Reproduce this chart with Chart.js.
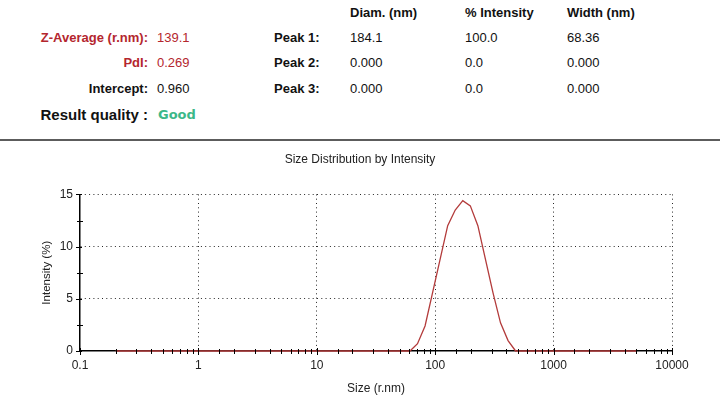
<!DOCTYPE html>
<html>
<head>
<meta charset="utf-8">
<script src="https://cdn.jsdelivr.net/npm/chart.js@4/dist/chart.umd.min.js"></script>
<style>
    html, body { margin: 0; padding: 0; background: #fff; }
    #page { position: relative; width: 720px; height: 402px; overflow: hidden; font-family: "Liberation Sans", Arial, sans-serif; color: #111; }
    .t { position: absolute; font-size: 13px; line-height: 16px; white-space: nowrap; }
    .b { font-weight: bold; }
    .lab { right: 572px; text-align: right; }
    .red { color: #b4262e; }
    .good { color: #3cb889; font-family: "DejaVu Sans", sans-serif; font-weight: bold; font-size: 13px; }
    #rule { position: absolute; left: 0; top: 139px; width: 720px; height: 2px; background: #5c5c5c; }
    #wrap { position: absolute; left: 0; top: 141px; width: 720px; height: 261px; }
</style>
</head>
<body>
<div id="page">
    <div class="t b" style="left:350px;top:5px">Diam. (nm)</div>
    <div class="t b" style="left:465px;top:5px">% Intensity</div>
    <div class="t b" style="left:567px;top:5px">Width (nm)</div>

    <div class="t b lab red" style="top:30px">Z-Average (r.nm):</div>
    <div class="t red" style="left:157px;top:30px">139.1</div>
    <div class="t b lab red" style="top:55px">PdI:</div>
    <div class="t red" style="left:157px;top:55px">0.269</div>
    <div class="t b lab" style="top:81px">Intercept:</div>
    <div class="t" style="left:157px;top:81px">0.960</div>
    <div class="t b lab" style="top:106px;font-size:15px;line-height:18px">Result quality :</div>
    <div class="t good" style="left:158px;top:107px">Good</div>

    <div class="t b" style="left:274px;top:30px">Peak 1:</div>
    <div class="t" style="left:350px;top:30px">184.1</div>
    <div class="t" style="left:465px;top:30px">100.0</div>
    <div class="t" style="left:567px;top:30px">68.36</div>
    <div class="t b" style="left:274px;top:55px">Peak 2:</div>
    <div class="t" style="left:350px;top:55px">0.000</div>
    <div class="t" style="left:465px;top:55px">0.0</div>
    <div class="t" style="left:567px;top:55px">0.000</div>
    <div class="t b" style="left:274px;top:81px">Peak 3:</div>
    <div class="t" style="left:350px;top:81px">0.000</div>
    <div class="t" style="left:465px;top:81px">0.0</div>
    <div class="t" style="left:567px;top:81px">0.000</div>

    <div id="rule"></div>
    <div id="wrap"><canvas id="size-chart" width="720" height="261"></canvas></div>
</div>
<script>
const sizes = [
    0.2, 0.2316, 0.2683, 0.3106, 0.3597, 0.4166, 0.4824, 0.5586, 0.6469, 0.7491,
    0.8675, 1.005, 1.164, 1.348, 1.561, 1.807, 2.093, 2.424, 2.807, 3.251,
    3.765, 4.360, 5.049, 5.847, 6.771, 7.841, 9.081, 10.52, 12.18, 14.10,
    16.33, 18.92, 21.91, 25.37, 29.38, 34.03, 39.41, 45.64, 52.85, 61.21,
    70.88, 82.09, 95.06, 110.1, 127.5, 147.6, 171.0, 198.0, 229.3, 265.5,
    307.5, 356.1, 412.4, 477.6, 553.1, 640.5, 741.7, 859.0, 994.7, 1152,
    1334, 1545, 1789, 2072, 2400, 2779, 3218, 3727, 4316, 5000
];
const intensity = [
    0, 0, 0, 0, 0, 0, 0, 0, 0, 0,
    0, 0, 0, 0, 0, 0, 0, 0, 0, 0,
    0, 0, 0, 0, 0, 0, 0, 0, 0, 0,
    0, 0, 0, 0, 0, 0, 0, 0, 0, 0,
    0.7, 2.4, 5.6, 8.8, 12.0, 13.5, 14.4, 13.9, 12.0, 8.8,
    5.6, 2.7, 1.0, 0, 0, 0, 0, 0, 0, 0,
    0, 0, 0, 0, 0, 0, 0, 0, 0, 0
];
const xRange = [0.1, 10000];
const yRange = [0, 15];
const yStep = 2.5;
const yLabelStep = 5;

(function() {
    const isDecade = v => Math.abs(Math.log10(v) - Math.round(Math.log10(v))) < 1e-6;
    const dotted = 'rgba(0,0,0,0.85)';
    const fontFamily = 'Liberation Sans, Arial, sans-serif';

    // tick marks that cross the axis lines, like the instrument software draws them
    const axisTicks = {
        id: 'axisTicks',
        afterDraw(chart) {
            const ctx = chart.ctx;
            const x = chart.scales.x;
            const y = chart.scales.y;
            const area = chart.chartArea;
            ctx.save();
            ctx.strokeStyle = '#000';
            ctx.lineWidth = 1;
            ctx.beginPath();
            x.ticks.forEach(t => {
                const px = Math.round(x.getPixelForValue(t.value)) + 0.5;
                const h = isDecade(t.value) ? 3 : 2;
                ctx.moveTo(px, area.bottom - h);
                ctx.lineTo(px, area.bottom + h + 1);
            });
            y.ticks.forEach(t => {
                const py = Math.round(y.getPixelForValue(t.value)) + 0.5;
                const major = t.value % yLabelStep === 0;
                ctx.moveTo(area.left - (major ? 4 : 3), py);
                ctx.lineTo(area.left + (major ? 2 : 3), py);
            });
            ctx.stroke();
            ctx.restore();
        }
    };

    const ctx = document.getElementById('size-chart').getContext('2d');
    new Chart(ctx, {
        type: 'line',
        data: {
            datasets: [{
                label: 'Intensity',
                data: sizes.map((s, i) => ({ x: s, y: intensity[i] })),
                borderColor: '#b33b3b',
                borderWidth: 1.3,
                pointRadius: 0,
                tension: 0,
                fill: false,
                clip: false
            }]
        },
        options: {
            responsive: false,
            animation: false,
            layout: { padding: 0 },
            plugins: {
                legend: { display: false },
                tooltip: { enabled: false },
                title: {
                    display: true,
                    text: 'Size Distribution by Intensity',
                    color: '#222',
                    font: { family: fontFamily, size: 12, weight: 'normal' },
                    padding: { top: 11, bottom: 28 }
                }
            },
            scales: {
                x: {
                    type: 'logarithmic',
                    min: xRange[0],
                    max: xRange[1],
                    afterFit: scale => { scale.height = 51; },
                    border: { display: true, color: '#000', width: 1.5, dash: [1, 3.3] },
                    grid: {
                        color: c => (c.tick && isDecade(c.tick.value) && c.tick.value > xRange[0]) ? dotted : 'transparent',
                        lineWidth: 1,
                        tickLength: 4,
                        tickColor: 'transparent'
                    },
                    ticks: {
                        autoSkip: false,
                        maxRotation: 0,
                        padding: 3,
                        color: '#222',
                        font: { family: fontFamily, size: 12 },
                        callback: v => isDecade(v) ? String(Number(v.toPrecision(6))) : ''
                    },
                    title: {
                        display: true,
                        text: 'Size (r.nm)',
                        color: '#222',
                        font: { family: fontFamily, size: 12 },
                        padding: { top: 0, bottom: 6 }
                    }
                },
                y: {
                    min: yRange[0],
                    max: yRange[1],
                    afterFit: scale => { scale.width = 80; },
                    border: { display: true, color: '#000', width: 1.5, dash: [1, 3.3] },
                    grid: {
                        color: c => (c.tick && c.tick.value > 0 && c.tick.value % yLabelStep === 0) ? dotted : 'transparent',
                        lineWidth: 1,
                        tickLength: 4,
                        tickColor: 'transparent'
                    },
                    ticks: {
                        stepSize: yStep,
                        padding: 3,
                        color: '#222',
                        font: { family: fontFamily, size: 12 },
                        callback: v => v % yLabelStep === 0 ? String(v) : ''
                    },
                    title: {
                        display: true,
                        text: 'Intensity (%)',
                        color: '#222',
                        font: { family: fontFamily, size: 11.5 },
                        padding: { top: 40, bottom: 0 }
                    }
                },
                // empty right-hand strip so the plot ends where the reference ends
                yRight: {
                    position: 'right',
                    min: yRange[0],
                    max: yRange[1],
                    afterFit: scale => { scale.width = 48; },
                    border: { display: false },
                    grid: { display: false, drawOnChartArea: false },
                    ticks: { display: false }
                }
            }
        },
        plugins: [axisTicks]
    });
})();
</script>
</body>
</html>
